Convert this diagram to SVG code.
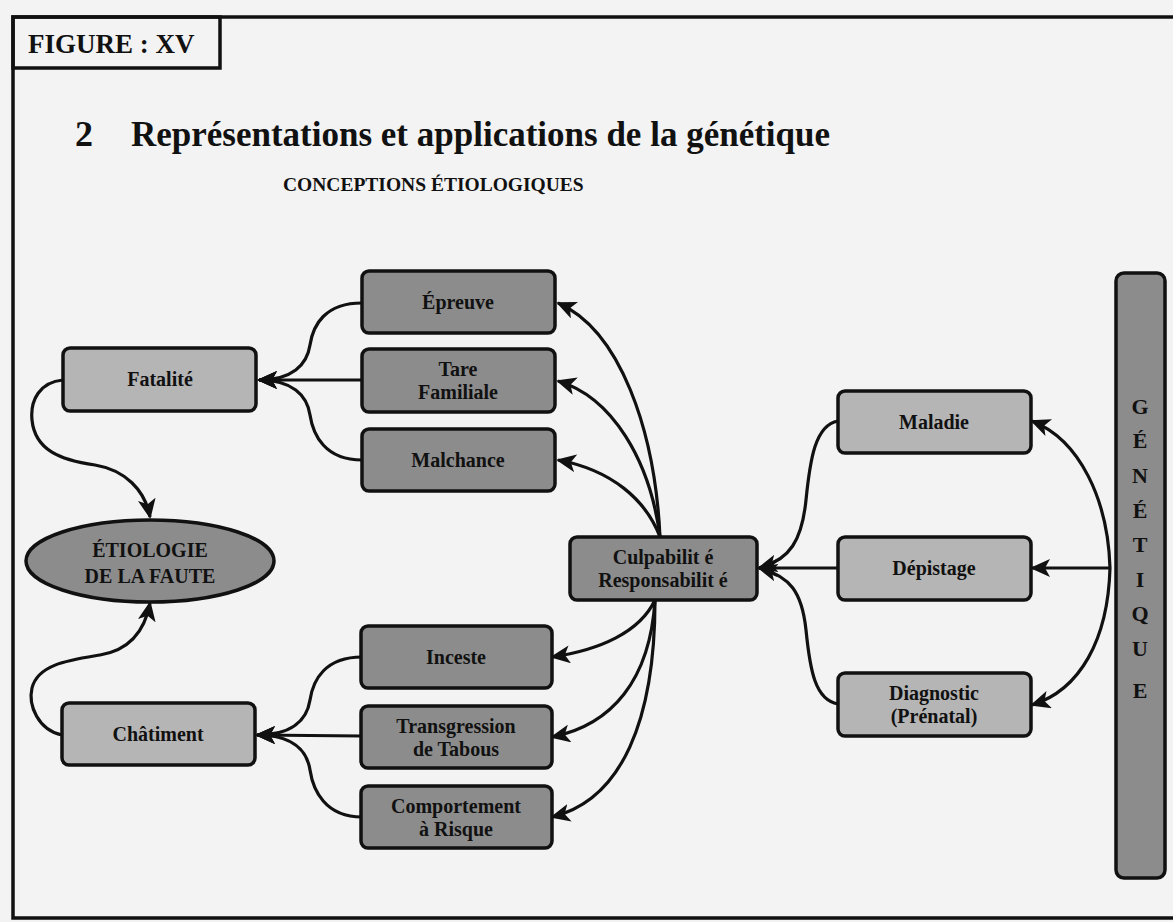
<svg xmlns="http://www.w3.org/2000/svg" width="1173" height="922" viewBox="0 0 1173 922">
<style>
text{font-family:"Liberation Serif","Times New Roman",serif;font-weight:bold;fill:#111}
.lbl{font-size:20px;text-anchor:middle}
.gl{font-size:22px;text-anchor:middle}
.dark{fill:#8c8c8c;stroke:#111;stroke-width:3.5}
.light{fill:#b5b5b5;stroke:#111;stroke-width:3.5}
.con{fill:none;stroke:#111;stroke-width:3.2}
.arr{marker-end:url(#ah)}
</style>
<defs>
<marker id="ah" markerUnits="userSpaceOnUse" markerWidth="20" markerHeight="18" viewBox="0 0 20 18" refX="18" refY="9" orient="auto">
<path d="M0,0 L20,9 L0,18 L5,9 Z" fill="#111"/>
</marker>
</defs>
<rect x="0" y="0" width="1173" height="922" fill="#f3f3f3"/>
<rect x="13" y="17" width="1180" height="901" fill="none" stroke="#111" stroke-width="3.5"/>
<g id="figure-label">
<rect x="13" y="17" width="207" height="51" fill="none" stroke="#111" stroke-width="3.5"/>
<text x="28" y="53" font-size="27">FIGURE : XV</text>
</g>
<g id="title">
<text x="75" y="146" font-size="36">2</text>
<text x="131" y="146" font-size="35">Représentations et applications de la génétique</text>
<text x="283" y="191" font-size="19.5">CONCEPTIONS ÉTIOLOGIQUES</text>
</g>
<g id="connectors">
<path class="con arr" d="M362,303 C325,303 313,325 310,345 C307,365 292,380 259,380"/>
<path class="con arr" d="M362,380 L259,380"/>
<path class="con arr" d="M362,460 C325,460 313,435 310,415 C307,395 292,380 259,380"/>
<path class="con arr" d="M362,657 C325,657 313,680 310,700 C307,720 292,735 257,735"/>
<path class="con arr" d="M362,736 L257,735"/>
<path class="con arr" d="M362,817 C325,817 313,790 310,770 C307,750 292,735 257,735"/>
<path class="con arr" d="M63,380 C40,382 30,400 32,420 C35,450 60,460 95,465 C125,470 145,490 150,517"/>
<path class="con arr" d="M62,735 C38,730 28,705 32,688 C38,664 70,660 100,655 C130,650 145,630 150,603"/>
<path class="con arr" d="M660,537 C655,430 620,330 558,303"/>
<path class="con arr" d="M660,537 C650,460 612,397 558,381"/>
<path class="con arr" d="M660,537 C646,500 612,470 558,460"/>
<path class="con arr" d="M655,600 C640,632 600,650 552,657"/>
<path class="con arr" d="M655,600 C650,680 612,725 552,737"/>
<path class="con arr" d="M655,600 C655,720 622,800 552,817"/>
<path class="con arr" d="M838,421 C815,425 810,460 806,500 C802,540 790,560 759,568"/>
<path class="con arr" d="M838,568 L759,568"/>
<path class="con arr" d="M838,704 C815,700 810,670 806,630 C802,592 790,576 759,568"/>
<path class="con arr" d="M1110,568 C1108,500 1080,440 1032,421"/>
<path class="con arr" d="M1110,568 L1032,568"/>
<path class="con arr" d="M1110,568 C1108,640 1080,690 1032,705"/>
</g>
<g id="node-epreuve"><rect class="dark" x="362" y="271" width="193" height="62" rx="7"/><text class="lbl" x="458" y="309">Épreuve</text></g>
<g id="node-tare"><rect class="dark" x="362" y="349" width="193" height="63" rx="7"/><text class="lbl" x="458" y="376">Tare</text><text class="lbl" x="458" y="399">Familiale</text></g>
<g id="node-malchance"><rect class="dark" x="362" y="429" width="193" height="62" rx="7"/><text class="lbl" x="458" y="467">Malchance</text></g>
<g id="node-fatalite"><rect class="light" x="63" y="348" width="193" height="63" rx="7"/><text class="lbl" x="160" y="386">Fatalité</text></g>
<g id="node-etiologie"><ellipse class="dark" cx="150" cy="561" rx="124" ry="41"/><text class="lbl" x="150" y="557" font-size="21">ÉTIOLOGIE</text><text class="lbl" x="150" y="583" font-size="21">DE LA FAUTE</text></g>
<g id="node-chatiment"><rect class="light" x="62" y="703" width="193" height="62" rx="7"/><text class="lbl" x="158" y="741">Châtiment</text></g>
<g id="node-inceste"><rect class="dark" x="361" y="626" width="191" height="62" rx="7"/><text class="lbl" x="456" y="664">Inceste</text></g>
<g id="node-transgression"><rect class="dark" x="361" y="706" width="191" height="62" rx="7"/><text class="lbl" x="456" y="733">Transgression</text><text class="lbl" x="456" y="756">de Tabous</text></g>
<g id="node-comportement"><rect class="dark" x="361" y="786" width="191" height="62" rx="7"/><text class="lbl" x="456" y="813">Comportement</text><text class="lbl" x="456" y="836">à Risque</text></g>
<g id="node-culpabilite"><rect class="dark" x="570" y="537" width="187" height="63" rx="7"/><text class="lbl" x="663" y="564">Culpabilit é</text><text class="lbl" x="663" y="587">Responsabilit é</text></g>
<g id="node-maladie"><rect class="light" x="838" y="391" width="193" height="62" rx="7"/><text class="lbl" x="934" y="429">Maladie</text></g>
<g id="node-depistage"><rect class="light" x="838" y="537" width="193" height="63" rx="7"/><text class="lbl" x="934" y="575">Dépistage</text></g>
<g id="node-diagnostic"><rect class="light" x="838" y="673" width="193" height="63" rx="7"/><text class="lbl" x="934" y="700">Diagnostic</text><text class="lbl" x="934" y="723">(Prénatal)</text></g>
<g id="node-genetique"><rect class="dark" x="1116" y="273" width="49" height="605" rx="8"/>
<text class="gl" x="1140" y="414">G</text>
<text class="gl" x="1140" y="448">É</text>
<text class="gl" x="1140" y="483">N</text>
<text class="gl" x="1140" y="518">É</text>
<text class="gl" x="1140" y="552">T</text>
<text class="gl" x="1140" y="587">I</text>
<text class="gl" x="1140" y="621">Q</text>
<text class="gl" x="1140" y="656">U</text>
<text class="gl" x="1140" y="698">E</text>
</g>
</svg>
